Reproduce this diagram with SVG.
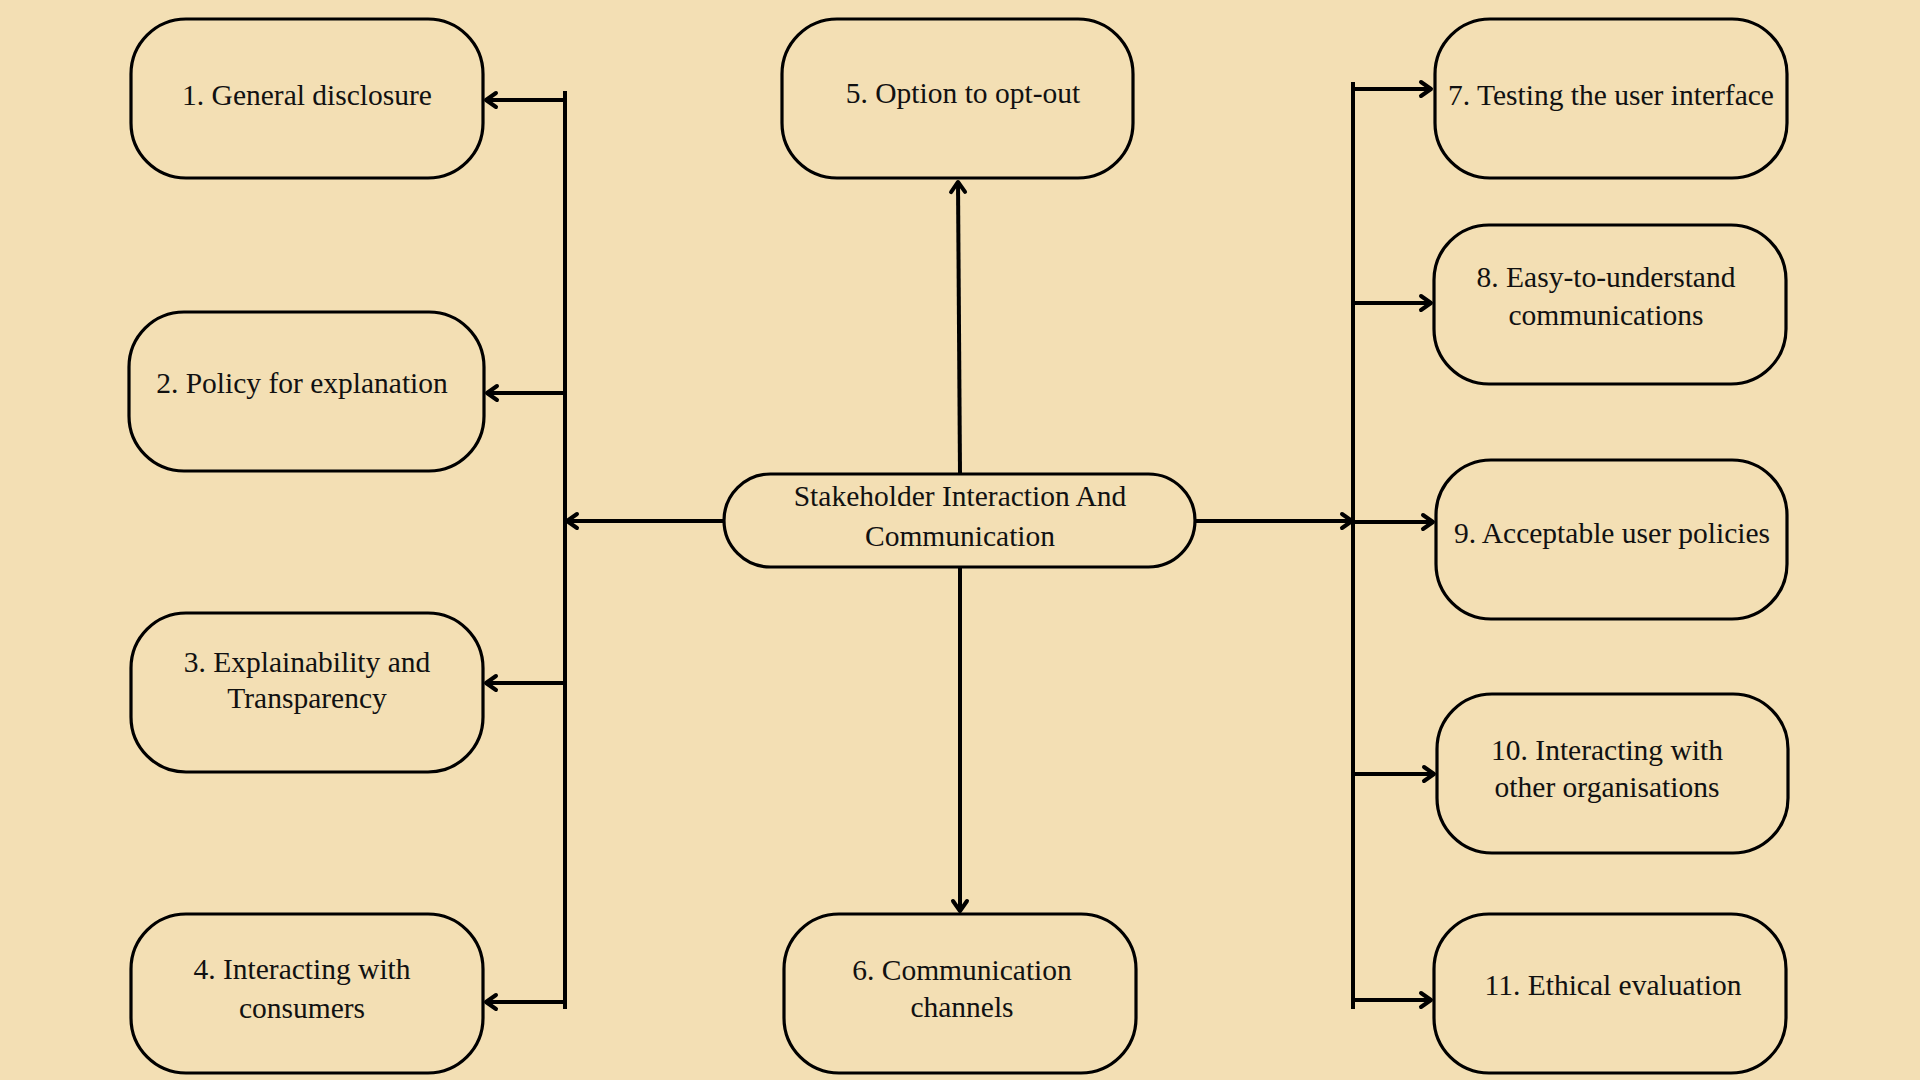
<svg xmlns="http://www.w3.org/2000/svg" width="1920" height="1080" viewBox="0 0 1920 1080">
<defs>
<marker id="arr" markerUnits="userSpaceOnUse" markerWidth="30" markerHeight="30" viewBox="-15 -15 30 30" refX="0" refY="0" orient="auto" overflow="visible">
<path d="M-10,-7 L0,0 L-10,7" fill="none" stroke="#000" stroke-width="4" stroke-linecap="round" stroke-linejoin="round"/>
</marker>
<style>
.box{fill:#F3DFB4;stroke:#000;stroke-width:3.2}
.t{font-family:"Liberation Serif","Times New Roman",serif;font-size:29.5px;fill:#111;text-anchor:middle}
.c{fill:none;stroke:#000;stroke-width:4}
.ca{fill:none;stroke:#000;stroke-width:4;marker-end:url(#arr)}
</style>
</defs>
<rect x="0" y="0" width="1920" height="1080" fill="#F3DFB4"/>
<g id="connectors">
<line class="c" x1="565" y1="91" x2="565" y2="1009"/>
<line class="ca" x1="565" y1="100" x2="486" y2="100"/>
<line class="ca" x1="565" y1="393" x2="487" y2="393"/>
<line class="ca" x1="565" y1="683" x2="486" y2="683"/>
<line class="ca" x1="565" y1="1002" x2="486" y2="1002"/>
<line class="ca" x1="724" y1="521" x2="567" y2="521"/>
<line class="c" x1="1353" y1="82" x2="1353" y2="1009"/>
<line class="ca" x1="1353" y1="89" x2="1431" y2="89"/>
<line class="ca" x1="1353" y1="303" x2="1431" y2="303"/>
<line class="ca" x1="1353" y1="522" x2="1433" y2="522"/>
<line class="ca" x1="1353" y1="774" x2="1434" y2="774"/>
<line class="ca" x1="1353" y1="1000" x2="1431" y2="1000"/>
<line class="ca" x1="1195" y1="521" x2="1352" y2="521"/>
<line class="ca" x1="960" y1="474" x2="958" y2="182"/>
<line class="ca" x1="960" y1="567" x2="960" y2="911"/>
</g>
<g id="center">
<rect class="box" x="724" y="474" width="471" height="93" rx="46.5" ry="46.5"/>
<text class="t" x="960" y="506">Stakeholder Interaction And</text>
<text class="t" x="960" y="546">Communication</text>
</g>
<g id="n1">
<rect class="box" x="131" y="19" width="352" height="159" rx="55" ry="55"/>
<text class="t" x="307" y="105">1. General disclosure</text>
</g>
<g id="n2">
<rect class="box" x="129" y="312" width="355" height="159" rx="55" ry="55"/>
<text class="t" x="302" y="393">2. Policy for explanation</text>
</g>
<g id="n3">
<rect class="box" x="131" y="613" width="352" height="159" rx="55" ry="55"/>
<text class="t" x="307" y="672">3. Explainability and</text>
<text class="t" x="307" y="708">Transparency</text>
</g>
<g id="n4">
<rect class="box" x="131" y="914" width="352" height="159" rx="55" ry="55"/>
<text class="t" x="302" y="979">4. Interacting with</text>
<text class="t" x="302" y="1018">consumers</text>
</g>
<g id="n5">
<rect class="box" x="782" y="19" width="351" height="159" rx="55" ry="55"/>
<text class="t" x="963" y="103">5. Option to opt-out</text>
</g>
<g id="n6">
<rect class="box" x="784" y="914" width="352" height="159" rx="55" ry="55"/>
<text class="t" x="962" y="980">6. Communication</text>
<text class="t" x="962" y="1017">channels</text>
</g>
<g id="n7">
<rect class="box" x="1435" y="19" width="352" height="159" rx="55" ry="55"/>
<text class="t" x="1611" y="105">7. Testing the user interface</text>
</g>
<g id="n8">
<rect class="box" x="1434" y="225" width="352" height="159" rx="55" ry="55"/>
<text class="t" x="1606" y="287">8. Easy-to-understand</text>
<text class="t" x="1606" y="325">communications</text>
</g>
<g id="n9">
<rect class="box" x="1436" y="460" width="351" height="159" rx="55" ry="55"/>
<text class="t" x="1612" y="543">9. Acceptable user policies</text>
</g>
<g id="n10">
<rect class="box" x="1437" y="694" width="351" height="159" rx="55" ry="55"/>
<text class="t" x="1607" y="760">10. Interacting with</text>
<text class="t" x="1607" y="797">other organisations</text>
</g>
<g id="n11">
<rect class="box" x="1434" y="914" width="352" height="159" rx="55" ry="55"/>
<text class="t" x="1613" y="995">11. Ethical evaluation</text>
</g>
</svg>
